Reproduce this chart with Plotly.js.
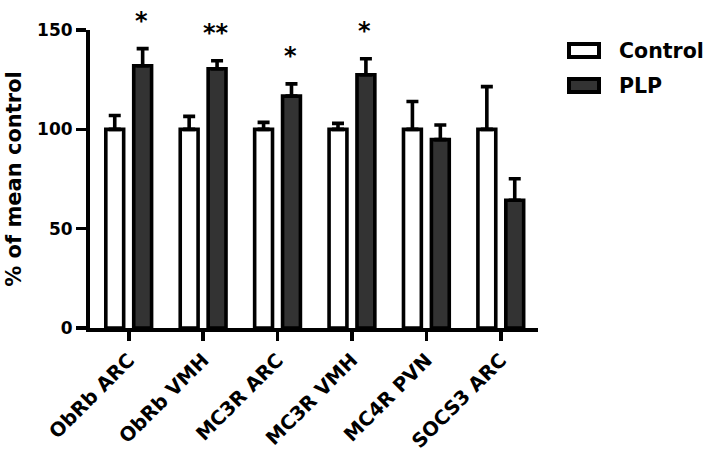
<!DOCTYPE html>
<html>
<head>
<meta charset="utf-8">
<script src="https://cdn.plot.ly/plotly-3.0.1.min.js"></script>
<style>html,body{margin:0;padding:0;background:#fff;}#chart{width:709px;height:454px;}</style>
</head>
<body>
<div id="chart"></div>
<script>
// ---- data ----
var categories = ["ObRb ARC", "ObRb VMH", "MC3R ARC", "MC3R VMH", "MC4R PVN", "SOCS3 ARC"];
var controlValues = [100, 100, 100, 100, 100, 100];
var controlErr = [7, 6.5, 3.5, 3, 14, 21.5];
var plpValues = [132, 130.5, 116.7, 127.5, 94.8, 64.3];
var plpErr = [8.6, 4, 6.2, 8, 7.4, 10.8];
var significance = ["*", "**", "*", "*", "", ""];
var seriesNames = ["Control", "PLP"];

// ---- layout constants ----
var W = 709, H = 454;
var M = {l: 90, r: 171, t: 30, b: 126};
var PW = W - M.l - M.r, PH = H - M.t - M.b;
function px2x(px) { return (px - M.l) / PW; }
function py2y(py) { return 1 - (py - M.t) / PH; }

var FONT = "DejaVu Sans, Arial, sans-serif";
var zeros = controlValues.map(function () { return 0; });

var traces = [
  {
    type: "bar", name: seriesNames[0], x: categories, y: controlValues,
    marker: {color: "#ffffff", line: {color: "#000000", width: 3.6}},
    error_y: {type: "data", symmetric: false, array: controlErr, arrayminus: zeros,
              color: "#000000", thickness: 3.6, width: 6},
    hoverinfo: "x+y"
  },
  {
    type: "bar", name: seriesNames[1], x: categories, y: plpValues,
    marker: {color: "#333333", line: {color: "#000000", width: 3.6}},
    error_y: {type: "data", symmetric: false, array: plpErr, arrayminus: zeros,
              color: "#000000", thickness: 3.6, width: 6},
    hoverinfo: "x+y"
  }
];

var annotations = [];
significance.forEach(function (s, i) {
  if (!s) return;
  annotations.push({
    x: categories[i], y: plpValues[i] + plpErr[i], xref: "x", yref: "y",
    text: s, showarrow: false, xanchor: "center", yanchor: "middle",
    xshift: 13, yshift: 28,
    font: {family: FONT, size: 24, color: "#000", weight: "bold"}
  });
});

// custom legend
var shapes = [];
var legendRows = [
  {name: seriesNames[0], fill: "#ffffff", y0: 44, y1: 57},
  {name: seriesNames[1], fill: "#333333", y0: 79, y1: 92}
];
legendRows.forEach(function (r) {
  shapes.push({
    type: "rect", xref: "paper", yref: "paper",
    x0: px2x(569), x1: px2x(599), y0: py2y(r.y1), y1: py2y(r.y0),
    fillcolor: r.fill, line: {color: "#000", width: 4}
  });
  annotations.push({
    xref: "paper", yref: "paper", x: px2x(617), y: py2y((r.y0 + r.y1) / 2),
    text: r.name, showarrow: false, xanchor: "left", yanchor: "middle",
    font: {family: FONT, size: 20.5, color: "#000", weight: "bold"}
  });
});

var layout = {
  width: W, height: H,
  margin: M,
  paper_bgcolor: "#fff", plot_bgcolor: "#fff",
  showlegend: false,
  barmode: "group", bargap: 0.25, bargroupgap: 0.36,
  font: {family: FONT, color: "#000"},
  xaxis: {
    type: "category", range: [-0.52, 5.5],
    showline: true, linecolor: "#000", linewidth: 4,
    ticks: "outside", ticklen: 9, tickwidth: 3.6, tickcolor: "#000",
    tickangle: -45, showgrid: false, zeroline: false,
    tickfont: {family: FONT, size: 19.5, color: "#000", weight: "bold"},
    automargin: false
  },
  yaxis: {
    range: [0, 150], tickvals: [0, 50, 100, 150],
    showline: true, linecolor: "#000", linewidth: 4,
    ticks: "outside", ticklen: 10, tickwidth: 3.6, tickcolor: "#000",
    showgrid: false, zeroline: false,
    tickfont: {family: FONT, size: 17, color: "#000", weight: "bold"},
    title: {text: "% of mean control", standoff: 11,
            font: {family: FONT, size: 21, color: "#000", weight: "bold"}},
    automargin: false
  },
  shapes: shapes,
  annotations: annotations
};

Plotly.newPlot("chart", traces, layout, {displayModeBar: false, staticPlot: true});
</script>
</body>
</html>
